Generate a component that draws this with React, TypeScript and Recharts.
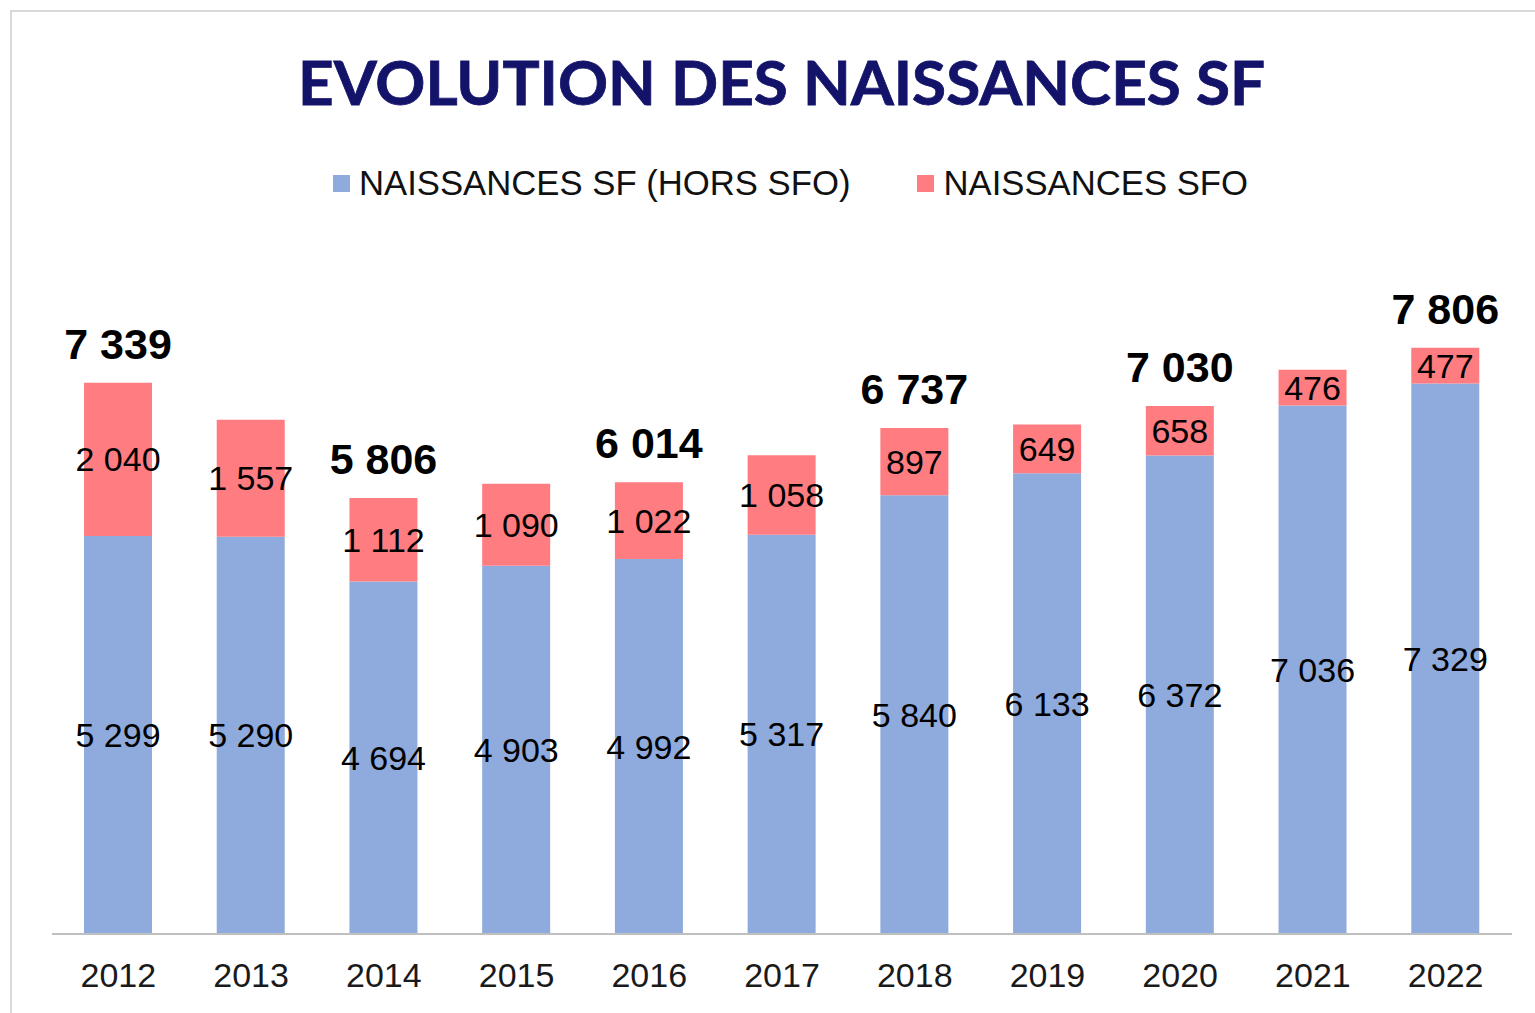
import { BarChart, Bar, XAxis, YAxis, Legend, LabelList } from "recharts"

const years = ["2012", "2013", "2014", "2015", "2016", "2017", "2018", "2019", "2020", "2021", "2022"]
const horsSfo = [5299, 5290, 4694, 4903, 4992, 5317, 5840, 6133, 6372, 7036, 7329]
const sfo = [2040, 1557, 1112, 1090, 1022, 1058, 897, 649, 658, 476, 477]
// only some totals are written above the bars
const labelledYears = ["2012", "2014", "2016", "2018", "2020", "2022"]

const FONT = "'Liberation Sans', Arial, sans-serif"
const BLUE = "#8FAADC"
const RED = "#FF7C80"

const fmt = (v: any) => String(v).replace(/\B(?=(\d{3})+(?!\d))/g, " ")

const data = years.map((year, i) => ({
    year,
    horsSfo: horsSfo[i],
    sfo: sfo[i],
    total: labelledYears.includes(year) ? horsSfo[i] + sfo[i] : null,
}))

const renderLegend = (props: any) => {
    const { payload = [] } = props
    return (
        <div
            style={{
                display: "flex",
                alignItems: "center",
                paddingLeft: 333,
                height: 46,
                fontFamily: FONT,
                fontSize: 34.7,
                color: "#111",
            }}
        >
            {payload.map((entry: any) => (
                <div
                    key={entry.value}
                    style={{ display: "flex", alignItems: "center", marginRight: 67 }}
                >
                    <span
                        style={{
                            display: "inline-block",
                            width: 17,
                            height: 17,
                            background: entry.color,
                            marginRight: 9,
                        }}
                    />
                    <span style={{ whiteSpace: "nowrap" }}>{entry.value}</span>
                </div>
            ))}
        </div>
    )
}

export default function App() {
    return (
        <div
            style={{
                position: "absolute",
                left: 0,
                top: 0,
                width: 1535,
                height: 1013,
                overflow: "hidden",
                background: "#fff",
            }}
        >
            <div
                style={{
                    position: "absolute",
                    left: 10,
                    top: 10,
                    width: 1600,
                    height: 1100,
                    border: "2px solid #D9D9D9",
                }}
            />
            <svg
                width={1535}
                height={140}
                style={{ position: "absolute", left: 0, top: 0 }}
            >
                <text
                    x={781.5}
                    y={105}
                    textAnchor="middle"
                    fontFamily="Lato, 'Open Sans', sans-serif"
                    fontWeight="bold"
                    fontSize={61}
                    fill="#13136A"
                    stroke="#13136A"
                    strokeWidth={0.8}
                    textLength={967}
                    lengthAdjust="spacingAndGlyphs"
                >
                    EVOLUTION DES NAISSANCES SF
                </text>
            </svg>
            <div style={{ position: "absolute", left: 0, top: 0 }}>
                <BarChart
                    width={1535}
                    height={1013}
                    data={data}
                    margin={{ top: 258, right: 23, left: 52, bottom: 49 }}
                    barSize={68}
                >
                    <XAxis
                        dataKey="year"
                        height={30}
                        tickLine={false}
                        tickMargin={23}
                        axisLine={{ stroke: "#BFBFBF", strokeWidth: 2 }}
                        tick={{ fontSize: 34, fill: "#1a1a1a", fontFamily: FONT }}
                    />
                    <YAxis hide domain={[0, 9000]} />
                    <Legend
                        layout="horizontal"
                        verticalAlign="middle"
                        align="center"
                        wrapperStyle={{ top: 160, left: 0, width: 1535 }}
                        content={renderLegend}
                    />
                    <Bar
                        dataKey="horsSfo"
                        name="NAISSANCES SF (HORS SFO)"
                        stackId="a"
                        fill={BLUE}
                        isAnimationActive={false}
                    >
                        <LabelList
                            dataKey="horsSfo"
                            position="center"
                            formatter={fmt}
                            style={{ fontSize: 34, fill: "#000", fontFamily: FONT }}
                        />
                    </Bar>
                    <Bar
                        dataKey="sfo"
                        name="NAISSANCES SFO"
                        stackId="a"
                        fill={RED}
                        isAnimationActive={false}
                    >
                        <LabelList
                            dataKey="sfo"
                            position="center"
                            formatter={fmt}
                            style={{ fontSize: 34, fill: "#000", fontFamily: FONT }}
                        />
                        <LabelList
                            dataKey="total"
                            position="top"
                            offset={24}
                            formatter={fmt}
                            style={{
                                fontSize: 43,
                                fontWeight: "bold",
                                fill: "#000",
                                fontFamily: FONT,
                            }}
                        />
                    </Bar>
                </BarChart>
            </div>
        </div>
    )
}
